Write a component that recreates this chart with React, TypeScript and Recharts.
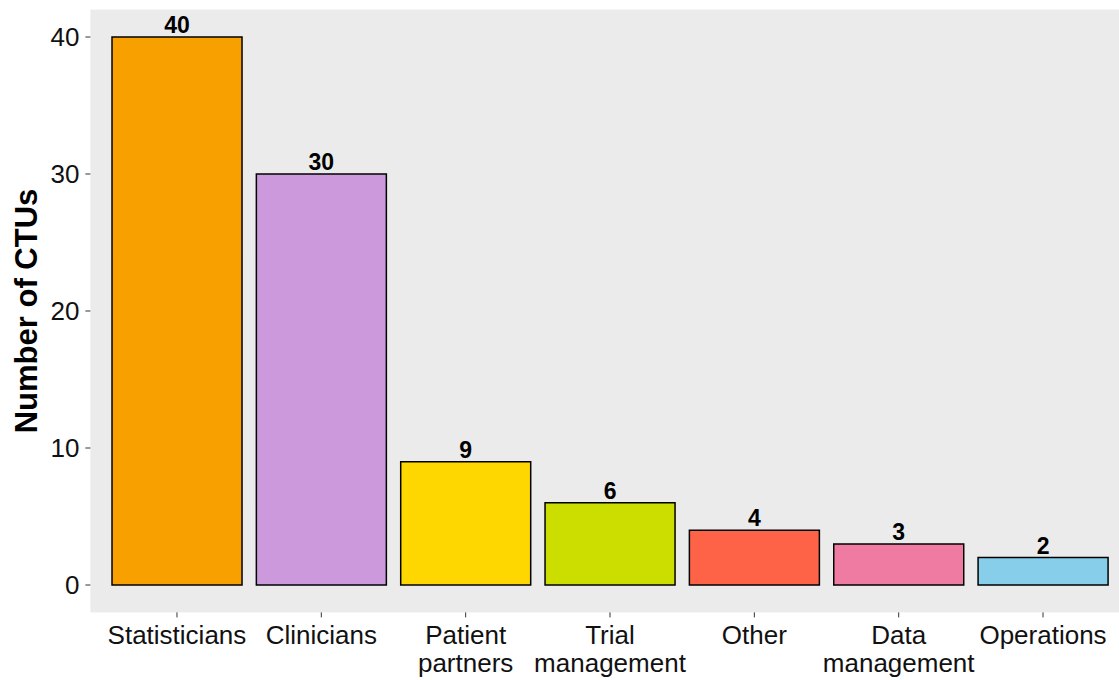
import { BarChart, Bar, XAxis, YAxis, CartesianGrid, Cell, LabelList } from 'recharts';

// roles and counts
const roles = ['Statisticians', 'Clinicians', 'Patient\npartners', 'Trial\nmanagement', 'Other', 'Data\nmanagement', 'Operations'];
const counts = [40, 30, 9, 6, 4, 3, 2];
const barColors = ['#F8A000', '#CC99DD', '#FFD700', '#CCDD00', '#FF6347', '#EF7BA3', '#87CEEB'];
const yTicks = [0, 10, 20, 30, 40];

const chartData = roles.map((role, i) => ({ role, count: counts[i] }));

const FONT = '"Liberation Sans", Arial, sans-serif';

const RoleTick = ({ x, y, payload }: any) => {
  const lines = String(payload.value).split('\n');
  return (
    <text x={x} y={y} textAnchor="middle" fontFamily={FONT} fontSize={26} fill="#111">
      {lines.map((line, i) => (
        <tspan key={i} x={x} dy={i === 0 ? 24.5 : 28}>
          {line}
        </tspan>
      ))}
    </text>
  );
};

const YTitle = ({ viewBox }: any) => {
  const cy = viewBox.y + viewBox.height / 2;
  return (
    <text
      x={37}
      y={cy}
      transform={`rotate(-90, 37, ${cy})`}
      textAnchor="middle"
      fontFamily={FONT}
      fontSize={31}
      fontWeight="bold"
      fill="#000"
    >
      Number of CTUs
    </text>
  );
};

export default function App() {
  return (
    <div style={{ position: 'absolute', left: 0, top: 0, width: 1119, height: 680, overflow: 'hidden', background: '#fff' }}>
      <BarChart
        width={1140}
        height={680}
        data={chartData}
        margin={{ top: 9.6, right: 10.4, left: 0, bottom: 0 }}
        barCategoryGap="5%"
      >
        <CartesianGrid horizontal={false} vertical={false} fill="#EBEBEB" stroke="none" />
        <XAxis
          dataKey="role"
          height={67.6}
          axisLine={false}
          tickLine={{ stroke: '#333', strokeWidth: 1 }}
          tickSize={5}
          padding={{ left: 14.4, right: 14.4 }}
          interval={0}
          tick={<RoleTick />}
        />
        <YAxis
          width={90.4}
          domain={[-2, 42]}
          ticks={yTicks}
          type="number"
          allowDataOverflow
          axisLine={false}
          tickLine={{ stroke: '#333', strokeWidth: 1 }}
          tickSize={5}
          tickMargin={6}
          tick={{ fontFamily: FONT, fontSize: 26, fill: '#111' }}
          label={<YTitle />}
        />
        <Bar dataKey="count" stroke="#000" strokeWidth={1.5} isAnimationActive={false}>
          {chartData.map((d, i) => (
            <Cell key={d.role} fill={barColors[i]} />
          ))}
          <LabelList
            dataKey="count"
            position="top"
            offset={4}
            style={{ fontFamily: FONT, fontSize: 23, fontWeight: 'bold', fill: '#000' }}
          />
        </Bar>
      </BarChart>
    </div>
  );
}
